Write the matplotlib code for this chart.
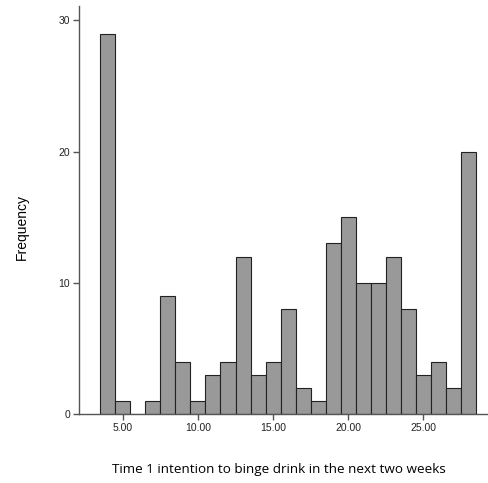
import matplotlib
matplotlib.use("Agg")
import matplotlib.pyplot as plt

values = [4, 5, 6, 7, 8, 9, 10, 11, 12, 13, 14, 15, 16, 17, 18, 19, 20, 21, 22, 23, 24, 25, 26, 27, 28]
counts = [29, 1, 0, 1, 9, 4, 1, 3, 4, 12, 3, 4, 8, 2, 1, 13, 15, 10, 10, 12, 8, 3, 4, 2, 20]
xticks = [5, 10, 15, 20, 25]
xticklabels = ["5.00", "10.00", "15.00", "20.00", "25.00"]
yticks = [0, 10, 20, 30]
yticklabels = ["0", "10", "20", "30"]

fig = plt.figure(figsize=(4.89, 4.83), dpi=100)
ax = fig.add_axes([0.162, 0.1429, 0.836, 0.8447])

ax.bar(values, counts, width=1.0, color="#999999", edgecolor="#222222", linewidth=0.8)

ax.set_xlim(2.1, 29.3)
ax.set_ylim(0, 31.1)
ax.set_xticks(xticks)
ax.set_xticklabels(xticklabels, family="Liberation Sans", fontsize=7.5, color="#222222")
ax.set_yticks(yticks)
ax.set_yticklabels(yticklabels, family="Liberation Sans", fontsize=7.5, color="#222222")
for s in ["top", "right"]:
    ax.spines[s].set_visible(False)
for s in ["left", "bottom"]:
    ax.spines[s].set_color("#555555")
    ax.spines[s].set_linewidth(1.0)
ax.tick_params(axis="both", direction="out", length=4, width=1.0, color="#555555", pad=2.5)

fig.text(0.045, 0.53, "Frequency", rotation=90, ha="center", va="center",
         family="Liberation Sans", fontsize=10)
fig.text(0.571, 0.027, "Time 1 intention to binge drink in the next two weeks",
         ha="center", va="center", family="Open Sans", fontsize=9.7)

fig.savefig("out.png", dpi=100)
